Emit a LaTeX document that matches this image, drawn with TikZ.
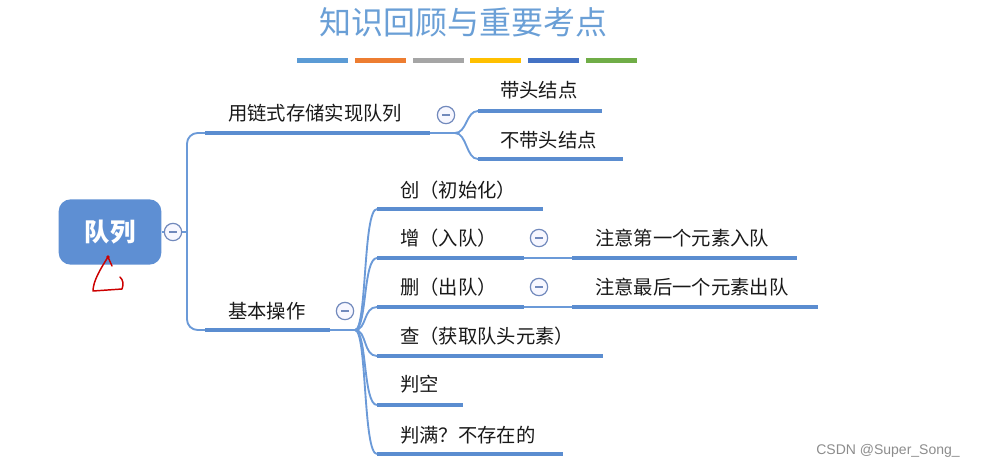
\documentclass[tikz,border=0pt]{standalone}
\usepackage{fontspec}
\setmainfont{Liberation Sans}
\newfontfamily\cjk{Noto Sans CJK SC}
\definecolor{titleblue}{HTML}{6A9FD6}
\definecolor{rootblue}{HTML}{5E8FD3}
\definecolor{lineblue}{HTML}{5B8DD0}
\definecolor{linkblue}{HTML}{6B9AD8}
\definecolor{foldblue}{HTML}{7189BC}
\definecolor{barblue}{HTML}{5B9BD5}
\definecolor{barorange}{HTML}{ED7D31}
\definecolor{bargray}{HTML}{A5A5A5}
\definecolor{baryellow}{HTML}{FFC000}
\definecolor{bardarkblue}{HTML}{4472C4}
\definecolor{bargreen}{HTML}{70AD47}
\begin{document}
\begin{tikzpicture}[x=0.75pt,y=-0.75pt]
\tikzstyle{item} = [anchor=west, inner sep=0pt, text=black!90, font=\cjk\fontsize{14.5}{16}\selectfont]
\tikzstyle{bar} = [lineblue, line width=3.5pt]
\tikzstyle{link} = [linkblue, line width=1.4pt]
\tikzstyle{fold} = [circle, draw=foldblue, fill=blue!3, line width=0.9pt, minimum size=13pt, inner sep=0pt,
  path picture={\draw[foldblue, line width=1pt] ([xshift=-3pt]path picture bounding box.center) -- ([xshift=3pt]path picture bounding box.center);}]
\tikzstyle{scribble} = [red!80!black, line width=1.1pt, line cap=round, line join=round]

\useasboundingbox (0,0) rectangle (999,469);

% heading
\node (Title) at (463,22) [text=titleblue, font=\cjk\fontsize{24}{26}\selectfont] {知识回顾与重要考点};
\foreach \c [count=\i from 0] in {barblue,barorange,bargray,baryellow,bardarkblue,bargreen}
  \fill[\c] (297+57.8*\i,58) rectangle +(51,5);

% root
\node (Queue) at (110,232) [rounded corners=9pt, fill=rootblue, minimum width=77pt, minimum height=49pt,
  text=white, font=\cjk\bfseries\fontsize{19}{21}\selectfont] {队列};
\coordinate (MarkTop) at (108,257);
\draw[scribble] (MarkTop) .. controls (101,268) and (93,281) .. (93,291) -- (122,289) .. controls (124,284) and (123,280) .. (120,277);
\draw[scribble] (MarkTop) -- (112,266);
\fill[red!80!black] (MarkTop) circle (1.8);

% first level
\coordinate (Spine) at (187,232);
\coordinate (ChainStart) at (205,133);
\coordinate (ChainEnd) at (430,133);
\coordinate (ChainJoin) at (455,133);
\coordinate (BasicStart) at (205,330);
\coordinate (BasicEnd) at (330,330);
\coordinate (BasicJoin) at (355,330);

\draw[link] (Queue.east) -- (Spine);
\draw[link, rounded corners=8pt] (ChainStart) -| (Spine) |- (BasicStart);
\node (QueueFold) at (173,232) [fold] {};

\node (Chain) [item] at (228,113) {用链式存储实现队列};
\draw[bar] (ChainStart) -- (ChainEnd);
\draw[link] (ChainEnd) -- (ChainJoin);
\node (ChainFold) at (446,115) [fold] {};

\node (Basic) [item] at (228,311) {基本操作};
\draw[bar] (BasicStart) -- (BasicEnd);
\draw[link] (BasicEnd) -- (BasicJoin);
\node (BasicFold) at (345,311) [fold] {};

% linked storage
\coordinate (HeadStart) at (478,111);
\coordinate (HeadEnd) at (602,111);
\coordinate (NoHeadStart) at (478,159);
\coordinate (NoHeadEnd) at (623,159);
\draw[link] (ChainJoin) .. controls +(12,0) and +(-12,0) .. (HeadStart);
\draw[link] (ChainJoin) .. controls +(12,0) and +(-12,0) .. (NoHeadStart);
\node (Head) [item] at (500,90) {带头结点};
\draw[bar] (HeadStart) -- (HeadEnd);
\node (NoHead) [item] at (500,140) {不带头结点};
\draw[bar] (NoHeadStart) -- (NoHeadEnd);

% basic operations
\coordinate (CreateStart) at (377,209);
\coordinate (CreateEnd) at (543,209);
\coordinate (AddStart) at (377,258);
\coordinate (AddEnd) at (524,258);
\coordinate (DelStart) at (377,307);
\coordinate (DelEnd) at (524,307);
\coordinate (PeekStart) at (377,356);
\coordinate (PeekEnd) at (603,356);
\coordinate (EmptyStart) at (377,405);
\coordinate (EmptyEnd) at (463,405);
\coordinate (FullStart) at (377,454);
\coordinate (FullEnd) at (563,454);
\foreach \n in {Create,Add,Del,Peek,Empty,Full}
  \draw[link] (BasicJoin) .. controls +(12,0) and +(-14,0) .. (\n Start);

\node (Create) [item] at (400,190) {创（初始化）};
\draw[bar] (CreateStart) -- (CreateEnd);
\node (Add) [item] at (400,238) {增（入队）};
\draw[bar] (AddStart) -- (AddEnd);
\node (Del) [item] at (400,287) {删（出队）};
\draw[bar] (DelStart) -- (DelEnd);
\node (Peek) [item] at (400,336) {查（获取队头元素）};
\draw[bar] (PeekStart) -- (PeekEnd);
\node (Empty) [item] at (400,384) {判空};
\draw[bar] (EmptyStart) -- (EmptyEnd);
\node (Full) [item] at (400,435) {判满？不存在的};
\draw[bar] (FullStart) -- (FullEnd);

% notes
\coordinate (AddNoteStart) at (572,258);
\coordinate (AddNoteEnd) at (797,258);
\coordinate (DelNoteStart) at (572,307);
\coordinate (DelNoteEnd) at (818,307);
\draw[link] (AddEnd) -- (AddNoteStart);
\draw[link] (DelEnd) -- (DelNoteStart);
\node (AddFold) at (539,238) [fold] {};
\node (DelFold) at (539,287) [fold] {};
\node (AddNote) [item] at (595,238) {注意第一个元素入队};
\draw[bar] (AddNoteStart) -- (AddNoteEnd);
\node (DelNote) [item] at (595,287) {注意最后一个元素出队};
\draw[bar] (DelNoteStart) -- (DelNoteEnd);

\node (Mark) at (888,451) [text=black!45, font=\fontsize{10.5}{12}\selectfont] {CSDN @Super\_Song\_};
\end{tikzpicture}
\end{document}
